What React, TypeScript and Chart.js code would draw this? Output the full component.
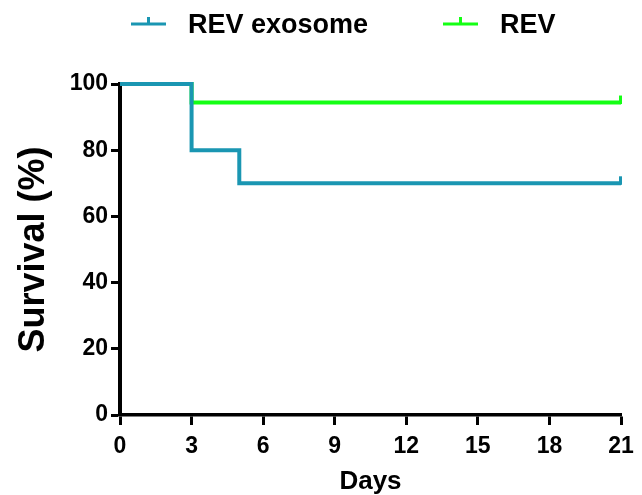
import React, { useEffect, useRef } from "react";
import { Chart, registerables } from "chart.js";

Chart.register(...registerables);

const seriesNames = ["REV exosome", "REV"];
const seriesColors = ["#1a96b2", "#14ff14"];
const exosomeDays = [0, 3, 3, 5, 5, 21];
const exosomeSurvival = [100, 100, 80, 80, 70, 70];
const revDays = [0, 3, 3, 21];
const revSurvival = [100, 100, 94.4, 94.4];
const exosomeCensorDays = [21];
const exosomeCensorSurvival = [70];
const revCensorDays = [21];
const revCensorSurvival = [94.4];
const xTicks = [0, 3, 6, 9, 12, 15, 18, 21];
const yTicks = [0, 20, 40, 60, 80, 100];

const FONT = "'Liberation Sans', Arial, Helvetica, sans-serif";

const toPoints = (xs: number[], ys: number[]) => xs.map((x, i) => ({ x, y: ys[i] }));

const censorPlugin = {
  id: "censorAndLegend",
  afterDatasetsDraw(chart: any) {
    const ctx = chart.ctx;
    const xs = chart.scales.x;
    const ys = chart.scales.y;
    const sets = [
      { d: exosomeCensorDays, s: exosomeCensorSurvival, c: seriesColors[0] },
      { d: revCensorDays, s: revCensorSurvival, c: seriesColors[1] },
    ];
    ctx.save();
    ctx.lineWidth = 3;
    ctx.lineCap = "butt";
    sets.forEach((set) => {
      ctx.strokeStyle = set.c;
      set.d.forEach((day, i) => {
        const px = xs.getPixelForValue(day);
        const py = ys.getPixelForValue(set.s[i]);
        ctx.beginPath();
        ctx.moveTo(px - 0.5, py + 1.5);
        ctx.lineTo(px - 0.5, py - 7);
        ctx.stroke();
      });
    });
    ctx.restore();
  },
  afterDraw(chart: any) {
    const ctx = chart.ctx;
    const items = [
      { x0: 131, x1: 166, tx: 188 },
      { x0: 443, x1: 478, tx: 500 },
    ];
    ctx.save();
    items.forEach((it, i) => {
      const y = 24;
      ctx.strokeStyle = seriesColors[i];
      ctx.lineWidth = 3;
      ctx.beginPath();
      ctx.moveTo(it.x0, y);
      ctx.lineTo(it.x1, y);
      const mid = (it.x0 + it.x1) / 2;
      ctx.moveTo(mid, y);
      ctx.lineTo(mid, y - 7);
      ctx.stroke();
      ctx.fillStyle = "#000";
      ctx.font = `bold 27px ${FONT}`;
      ctx.textBaseline = "alphabetic";
      ctx.textAlign = "left";
      ctx.fillText(seriesNames[i], it.tx, 33);
    });
    ctx.restore();
  },
};

export default function App() {
  const ref = useRef<HTMLCanvasElement | null>(null);
  useEffect(() => {
    if (!ref.current) return;
    const chart = new Chart(ref.current, {
      type: "line",
      data: {
        datasets: [
          {
            label: seriesNames[0],
            data: toPoints(exosomeDays, exosomeSurvival),
            borderColor: seriesColors[0],
            backgroundColor: seriesColors[0],
            borderWidth: 4,
            pointRadius: 0,
            tension: 0,
            clip: false as any,
            borderJoinStyle: "miter",
          },
          {
            label: seriesNames[1],
            data: toPoints(revDays, revSurvival),
            borderColor: seriesColors[1],
            backgroundColor: seriesColors[1],
            borderWidth: 4,
            pointRadius: 0,
            tension: 0,
            clip: false as any,
            borderJoinStyle: "miter",
          },
        ],
      },
      options: {
        responsive: false,
        animation: false,
        devicePixelRatio: 1,
        layout: { padding: { top: 84, right: 21, left: 0, bottom: 0 } },
        plugins: {
          legend: { display: false },
          tooltip: { enabled: false },
        },
        scales: {
          x: {
            type: "linear",
            min: 0,
            max: 21,
            afterFit: (s: any) => {
              s.height = 80;
            },
            afterBuildTicks: (s: any) => {
              s.ticks = xTicks.map((v) => ({ value: v }));
            },
            border: { display: true, color: "#000", width: 3.5 },
            grid: {
              drawOnChartArea: false,
              drawTicks: true,
              tickLength: 10,
              tickWidth: 3,
              tickColor: "#000",
            },
            ticks: {
              color: "#000",
              font: { family: FONT, size: 23, weight: "bold" },
              padding: 8,
              maxRotation: 0,
              autoSkip: false,
            },
            title: {
              display: true,
              text: "Days",
              color: "#000",
              font: { family: FONT, size: 26, weight: "bold", lineHeight: 1 },
              padding: 0,
            },
          },
          y: {
            type: "linear",
            min: 0,
            max: 100,
            afterFit: (s: any) => {
              s.width = 120;
            },
            afterBuildTicks: (s: any) => {
              s.ticks = yTicks.map((v) => ({ value: v }));
            },
            border: { display: true, color: "#000", width: 4 },
            grid: {
              drawOnChartArea: false,
              drawTicks: true,
              tickLength: 9,
              tickWidth: 3,
              tickColor: "#000",
            },
            ticks: {
              color: "#000",
              font: { family: FONT, size: 23, weight: "bold" },
              padding: 3,
              autoSkip: false,
            },
            title: {
              display: true,
              text: "Survival (%)",
              color: "#000",
              font: { family: FONT, size: 36, weight: "bold", lineHeight: 1.2 },
              padding: { top: 12, bottom: 0 },
            },
          },
        },
      },
      plugins: [censorPlugin],
    } as any);
    return () => chart.destroy();
  }, []);
  return (
    <div style={{ position: "fixed", left: 0, top: 0, width: 642, height: 495, background: "#fff" }}>
      <canvas ref={ref} width={642} height={495} style={{ display: "block", width: 642, height: 495 }} />
    </div>
  );
}
